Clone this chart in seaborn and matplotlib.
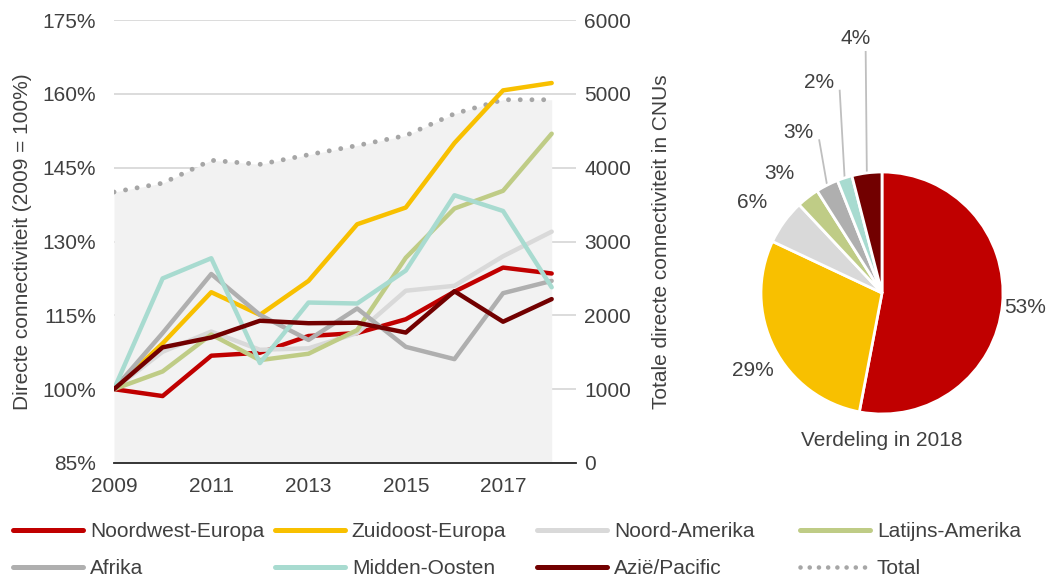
import numpy as np
import matplotlib
matplotlib.use("Agg")
import matplotlib.pyplot as plt
from matplotlib.lines import Line2D
import pandas as pd
import seaborn as sns

# data
years = list(range(2009, 2019))

regions = ["Noordwest-Europa", "Zuidoost-Europa", "Noord-Amerika", "Latijns-Amerika",
           "Afrika", "Midden-Oosten", "Azië/Pacific"]

noordwest_europa = [100, 98.6, 106.8, 107.4, 110.8, 111.4, 114.2, 119.8, 124.7, 123.5]
zuidoost_europa = [100, 109.3, 119.7, 115.1, 122.0, 133.5, 136.9, 150.0, 160.7, 162.2]
noord_amerika = [100, 107.6, 111.7, 108.0, 108.3, 111.4, 120.0, 121.0, 127.0, 132.0]
latijns_amerika = [100, 103.6, 111.1, 105.9, 107.2, 112.0, 126.7, 136.7, 140.3, 151.9]
afrika = [100, 111.4, 123.4, 115.1, 110.0, 116.4, 108.6, 106.1, 119.5, 122.0]
midden_oosten = [100, 122.5, 126.6, 105.3, 117.6, 117.4, 124.1, 139.4, 136.2, 120.7]
azie_pacific = [100, 108.5, 110.5, 113.9, 113.4, 113.5, 111.5, 119.9, 113.7, 118.3]

total_cnu = [3670, 3790, 4100, 4045, 4175, 4300, 4435, 4730, 4920, 4920]

share_2018 = [53, 29, 6, 3, 3, 2, 4]

colors = ["#C00000", "#F8C000", "#D9D9D9", "#BFCC86", "#AFAFAF", "#A8DBD0", "#720000"]
total_color = "#A6A6A6"
text_color = "#404040"
fs = 15

series = [noordwest_europa, zuidoost_europa, noord_amerika, latijns_amerika,
          afrika, midden_oosten, azie_pacific]

df = pd.DataFrame({
    "jaar": years * len(regions),
    "regio": [r for r in regions for _ in years],
    "index": [v for s in series for v in s],
})
df_total = pd.DataFrame({"jaar": years, "total": total_cnu})

sns.set_theme(style="white")
plt.rcParams["font.family"] = ["Liberation Sans", "DejaVu Sans"]
plt.rcParams["text.color"] = text_color

fig = plt.figure(figsize=(10.47, 5.78), dpi=100)

# main line chart
ax1 = fig.add_axes([114 / 1047, 1 - 463 / 578, (576 - 114) / 1047, (463 - 20) / 578])
ax2 = ax1.twinx()
ax1.set_zorder(2)
ax2.set_zorder(1)
ax1.patch.set_visible(False)

ax2.fill_between(df_total["jaar"], df_total["total"], color="#F2F2F2", zorder=1, lw=0)
sns.lineplot(data=df_total, x="jaar", y="total", ax=ax2, color=total_color,
             lw=3.5, linestyle=(0, (0.01, 2.4)), dash_capstyle="round", zorder=3)
ax2.set_ylim(0, 6000)
ax2.set_yticks(range(0, 6001, 1000))
ax2.set_axisbelow(True)
ax2.yaxis.grid(True, color="#D9D9D9", lw=1.3)
ax2.set_ylabel("Totale directe connectiviteit in CNUs", fontsize=fs, color=text_color, labelpad=15)

pal = dict(zip(regions, colors))
sns.lineplot(data=df, x="jaar", y="index", hue="regio", palette=pal, lw=3.2,
             ax=ax1, legend=False)
ax1.set_xlim(2009, 2018.5)
ax1.set_ylim(85, 175)
ax1.set_yticks(range(85, 176, 15))
ax1.set_yticklabels([f"{v}%" for v in range(85, 176, 15)])
ax1.set_xticks(years)
ax1.set_xticklabels([str(y) if y % 2 == 1 else "" for y in years])
ax1.set_xlabel("")
ax1.set_ylabel("Directe connectiviteit (2009 = 100%)", fontsize=fs, color=text_color, labelpad=7)
ax1.tick_params(axis="x", direction="out", length=7, width=1.3, color="#262626",
                labelsize=fs, labelcolor=text_color, pad=3)
ax1.tick_params(axis="y", length=0, labelsize=fs, labelcolor=text_color, pad=13)
ax2.tick_params(axis="y", length=0, labelsize=fs, labelcolor=text_color, pad=6)

for a in (ax1, ax2):
    for s in a.spines.values():
        s.set_visible(False)
ax1.spines["bottom"].set_visible(True)
ax1.spines["bottom"].set_color("#262626")
ax1.spines["bottom"].set_linewidth(1.3)

# pie chart of 2018 shares
r_px = 121
cx, cy = 882, 293
axp = fig.add_axes([700 / 1047, 1 - 460 / 578, 347 / 1047, 440 / 578])
wedges, _ = axp.pie(share_2018, colors=colors, startangle=90, counterclock=False,
                    wedgeprops=dict(edgecolor="white", linewidth=2))
axp.set_xlim((700 - cx) / r_px, (1047 - cx) / r_px)
axp.set_ylim(-(460 - cy) / r_px, (cy - 20) / r_px)
axp.set_aspect("equal", adjustable="box")
axp.axis("off")

label_pos = [(1.18, -0.12), (-1.07, -0.64), (-1.07, 0.75), (-0.85, 0.99),
             (-0.69, 1.33), (-0.52, 1.74), (-0.22, 2.10)]
leader_top = [None, None, None, None, (-0.52, 1.27), (-0.35, 1.68), (-0.135, 2.0)]
for w, v, pos, top in zip(wedges, share_2018, label_pos, leader_top):
    axp.text(pos[0], pos[1], f"{v}%", ha="center", va="center", fontsize=fs, color=text_color)
    if top is not None:
        ang = np.deg2rad((w.theta1 + w.theta2) / 2)
        axp.plot([top[0], np.cos(ang)], [top[1], np.sin(ang)], color="#BFBFBF", lw=1.3,
                 solid_capstyle="butt", zorder=0)
axp.text(0, -1.22, "Verdeling in 2018", ha="center", va="center", fontsize=fs, color=text_color)

# legend in four columns
handles = [Line2D([0], [0], color=c, lw=3.6, solid_capstyle="round") for c in colors]
handles.append(Line2D([0], [0], color=total_color, lw=3.3, linestyle=(0, (0.01, 2.0)),
                      dash_capstyle="round"))
labels = regions + ["Total"]
col_x = [13, 275, 537, 800]
for i, x in enumerate(col_x):
    idx = [i, i + 4]
    fig.legend([handles[j] for j in idx], [labels[j] for j in idx], loc="center left",
               bbox_to_anchor=(x / 1047, 1 - 550 / 578), frameon=False, fontsize=fs,
               handlelength=3.35, handletextpad=0.34, labelspacing=0.88,
               borderpad=0, borderaxespad=0, labelcolor=text_color)

fig.savefig("out.png", dpi=100)
